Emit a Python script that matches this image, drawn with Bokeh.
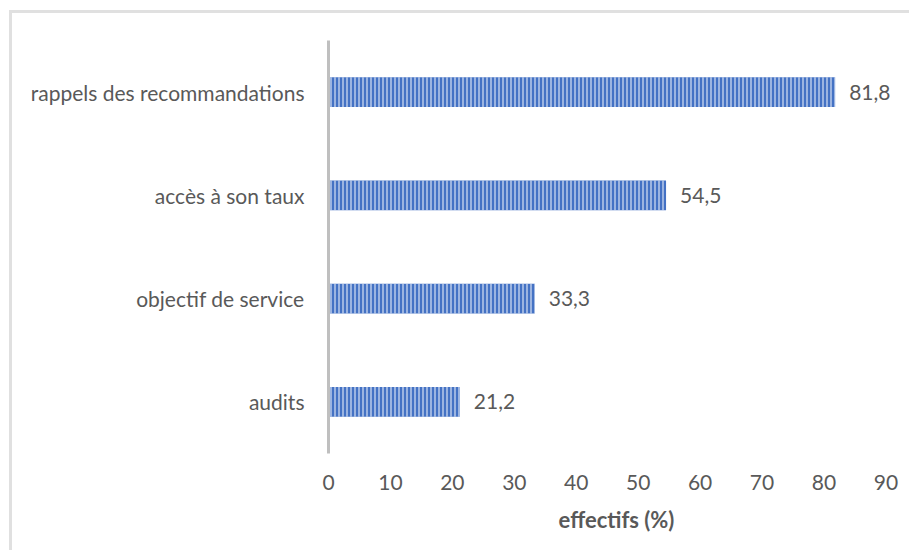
from bokeh.plotting import figure
from bokeh.models import ColumnDataSource, FactorRange, LabelSet
from bokeh.core.properties import value
from bokeh.embed import file_html
from bokeh.resources import INLINE

categories = ["audits", "objectif de service", "accès à son taux", "rappels des recommandations"]
values = [21.2, 33.3, 54.5, 81.8]
value_labels = ["21,2", "33,3", "54,5", "81,8"]
x_ticks = [0, 10, 20, 30, 40, 50, 60, 70, 80, 90]

FONT = "Lato"
GREY = "#595959"

src = ColumnDataSource(dict(cat=categories, val=values, lab=value_labels))

p = figure(width=900, height=540, output_backend="svg", toolbar_location=None,
           y_range=FactorRange(factors=categories), x_range=(0, 93),
           min_border_left=316, min_border_right=8, min_border_top=27, min_border_bottom=100)
p.styles = {"margin-left": "9px", "margin-top": "10px",
            "border-top": "3px solid #e0e0e0", "border-left": "3px solid #e0e0e0"}

p.hbar(y="cat", right="val", left=0, height=0.286, source=src,
       fill_color="#4472C4", line_color=None,
       hatch_pattern="vertical_line", hatch_color="#e3eaf7", hatch_alpha=0.85,
       hatch_scale=4, hatch_weight=1.3)

labels = LabelSet(x="val", y="cat", text="lab", source=src, x_offset=14,
                  text_baseline="middle", text_align="left",
                  text_font=value(FONT), text_font_size="21px", text_color=GREY)
p.add_layout(labels)

p.xgrid.grid_line_color = None
p.ygrid.grid_line_color = None
p.outline_line_color = None

p.xaxis.ticker = x_ticks
p.xaxis.axis_line_color = None
p.xaxis.major_tick_line_color = None
p.xaxis.minor_tick_line_color = None
p.xaxis.major_label_text_font = FONT
p.xaxis.major_label_text_font_size = "21px"
p.xaxis.major_label_text_color = GREY
p.xaxis.major_label_standoff = 15
p.xaxis.axis_label = "effectifs (%)"
p.xaxis.axis_label_text_font = FONT
p.xaxis.axis_label_text_font_size = "22px"
p.xaxis.axis_label_text_font_style = "bold"
p.xaxis.axis_label_text_color = GREY
p.xaxis.axis_label_standoff = 13

p.yaxis.axis_line_color = "#bfbfbf"
p.yaxis.axis_line_width = 3
p.yaxis.major_tick_line_color = None
p.yaxis.minor_tick_line_color = None
p.yaxis.major_label_text_font = FONT
p.yaxis.major_label_text_font_size = "21px"
p.yaxis.major_label_text_color = GREY
p.yaxis.major_label_standoff = 18

open("out.html", "w").write(file_html(p, INLINE))
